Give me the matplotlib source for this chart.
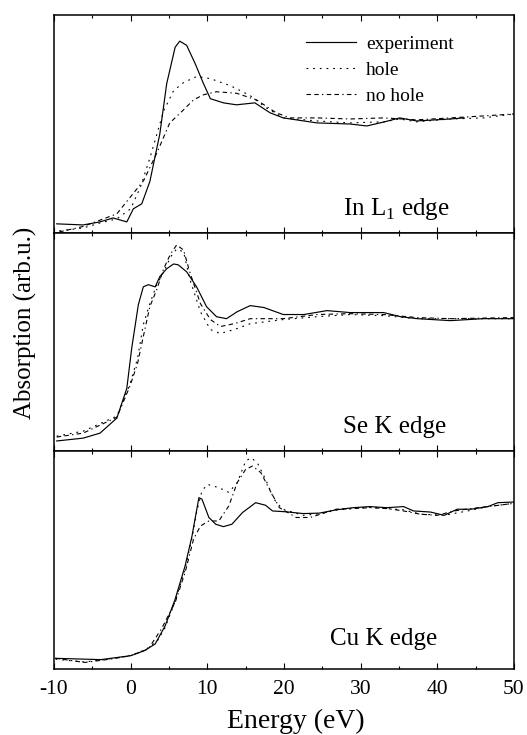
import matplotlib
matplotlib.use("Agg")
import matplotlib.pyplot as plt
from matplotlib.ticker import MultipleLocator

plt.rcParams['font.family'] = ['Liberation Serif', 'DejaVu Serif']
plt.rcParams['axes.unicode_minus'] = False

# In L1 edge (values as fraction of panel height)
in_exp_e = [-9.65, -6.2, -4.0, -2.3, -0.5, 0.35, 1.45, 2.5, 3.8, 4.7, 5.8, 6.4, 7.3, 8.4, 9.5,
            10.4, 12.1, 13.8, 16.2, 18.2, 19.9, 24.3, 28.6, 30.8, 33.0, 35.1, 37.3, 41.7, 43.5]
in_exp = [0.042, 0.037, 0.051, 0.069, 0.051, 0.111, 0.134, 0.236, 0.454, 0.685, 0.852, 0.88,
          0.861, 0.778, 0.685, 0.616, 0.597, 0.588, 0.597, 0.551, 0.528, 0.505, 0.50, 0.491,
          0.509, 0.528, 0.514, 0.523, 0.528]
in_hole_e = [-9.3, -6.2, -4.0, -1.8, 0.0, 1.3, 2.5, 4.3, 5.6, 6.9, 8.6, 10.4, 13.0, 15.6, 17.7,
             19.9, 24.3, 28.6, 33.0, 35.1, 37.3, 41.7, 46.0, 50.0]
in_hole = [0.01, 0.023, 0.046, 0.065, 0.111, 0.213, 0.343, 0.56, 0.653, 0.69, 0.718, 0.708,
           0.676, 0.63, 0.574, 0.528, 0.514, 0.505, 0.51, 0.523, 0.51, 0.523, 0.528, 0.546]
in_nohole_e = [-9.3, -6.2, -1.8, 1.7, 3.4, 5.1, 6.9, 8.2, 9.5, 11.2, 13.8, 16.4, 19.0, 20.8,
               24.3, 28.6, 33.0, 37.3, 41.7, 46.0, 50.0]
in_nohole = [0.005, 0.03, 0.088, 0.241, 0.366, 0.505, 0.565, 0.611, 0.634, 0.648, 0.641, 0.611,
             0.551, 0.528, 0.528, 0.523, 0.528, 0.519, 0.528, 0.537, 0.546]

# Se K edge
se_exp_e = [-9.65, -6.2, -4.0, -1.8, -0.5, 0.13, 1.0, 1.65, 2.3, 3.2, 3.8, 4.7, 5.6, 6.2, 7.3,
            8.6, 9.9, 11.2, 12.5, 13.9, 15.6, 17.4, 19.9, 22.6, 25.6, 28.6, 33.0, 35.2, 37.4,
            41.7, 46.0, 50.0]
se_exp = [0.046, 0.059, 0.082, 0.151, 0.288, 0.47, 0.671, 0.753, 0.763, 0.753, 0.80, 0.836,
          0.858, 0.854, 0.822, 0.753, 0.662, 0.616, 0.607, 0.639, 0.667, 0.658, 0.626, 0.626,
          0.644, 0.635, 0.635, 0.616, 0.607, 0.598, 0.607, 0.607]
se_hole_e = [-9.65, -6.2, -1.8, -0.1, 0.9, 1.65, 2.5, 3.4, 4.3, 5.2, 6.0, 6.9, 7.7, 9.1, 10.4,
             11.7, 13.5, 15.6, 19.9, 24.3, 28.6, 33.0, 37.4, 50.0]
se_hole = [0.068, 0.091, 0.16, 0.306, 0.425, 0.58, 0.676, 0.763, 0.822, 0.89, 0.927, 0.913,
           0.79, 0.639, 0.557, 0.539, 0.557, 0.584, 0.603, 0.616, 0.626, 0.621, 0.607, 0.607]
se_nohole_e = [-9.65, -6.2, -1.8, -0.1, 0.9, 1.65, 2.5, 3.4, 4.3, 5.2, 6.0, 6.9, 7.7, 9.1, 10.4,
               11.7, 13.5, 15.6, 19.9, 24.3, 28.6, 33.0, 37.4, 41.7, 50.0]
se_nohole = [0.064, 0.082, 0.155, 0.297, 0.402, 0.525, 0.662, 0.74, 0.836, 0.904, 0.945, 0.922,
             0.822, 0.676, 0.603, 0.571, 0.584, 0.607, 0.607, 0.626, 0.63, 0.626, 0.612, 0.607,
             0.612]

# Cu K edge
cu_exp_e = [-9.8, -3.9, 0.0, 1.8, 3.2, 4.5, 5.8, 7.1, 8.0, 8.9, 9.3, 10.2, 11.1, 12.1, 13.2,
            14.6, 16.3, 17.6, 18.5, 20.3, 22.5, 24.6, 26.8, 29.0, 31.2, 33.4, 35.6, 36.9, 39.1,
            40.9, 42.6, 44.4, 46.6, 47.9, 50.0]
cu_exp = [0.049, 0.043, 0.061, 0.084, 0.115, 0.198, 0.32, 0.473, 0.61, 0.786, 0.779, 0.695,
          0.664, 0.653, 0.664, 0.718, 0.763, 0.751, 0.725, 0.721, 0.713, 0.715, 0.73, 0.74,
          0.745, 0.74, 0.745, 0.725, 0.72, 0.705, 0.733, 0.733, 0.745, 0.763, 0.766]
cu_hole_e = [-9.8, -6.0, -2.5, 0.0, 2.0, 3.5, 4.5, 5.8, 7.1, 8.0, 8.6, 9.3, 10.0, 11.5, 12.8,
             13.9, 15.0, 15.7, 16.5, 17.6, 18.7, 19.8, 22.5, 24.6, 27.0, 31.2, 35.6, 37.8,
             40.9, 44.4, 46.6, 50.0]
cu_hole = [0.045, 0.032, 0.048, 0.062, 0.09, 0.13, 0.19, 0.31, 0.46, 0.60, 0.72, 0.817, 0.847,
           0.832, 0.81, 0.855, 0.954, 0.969, 0.947, 0.87, 0.779, 0.733, 0.705, 0.712, 0.73,
           0.742, 0.73, 0.71, 0.705, 0.728, 0.745, 0.76]
cu_nohole_e = [-9.8, -6.0, -2.5, 0.0, 2.3, 4.0, 5.8, 7.1, 8.2, 9.1, 10.2, 11.5, 12.8, 13.9, 15.0,
               15.9, 17.0, 18.1, 19.4, 21.6, 23.4, 25.1, 26.8, 29.0, 31.2, 33.4, 35.6, 37.8,
               40.0, 42.2, 44.4, 46.6, 50.0]
cu_nohole = [0.049, 0.03, 0.046, 0.061, 0.092, 0.183, 0.305, 0.443, 0.595, 0.656, 0.679, 0.679,
             0.748, 0.855, 0.916, 0.931, 0.90, 0.824, 0.74, 0.695, 0.695, 0.714, 0.733, 0.736,
             0.74, 0.736, 0.725, 0.71, 0.705, 0.725, 0.736, 0.745, 0.76]

edge_labels = ['In L$_\\mathregular{1}$ edge', 'Se K edge', 'Cu K edge']
label_pos = [(0.628, 0.083), (0.628, 0.082), (0.60, 0.11)]

panels = [
    (in_exp_e, in_exp, in_hole_e, in_hole, in_nohole_e, in_nohole),
    (se_exp_e, se_exp, se_hole_e, se_hole, se_nohole_e, se_nohole),
    (cu_exp_e, cu_exp, cu_hole_e, cu_hole, cu_nohole_e, cu_nohole),
]

fig, axes = plt.subplots(3, 1, figsize=(5.27, 7.35), dpi=100, sharex=True)
fig.subplots_adjust(left=54 / 527, right=514 / 527, top=1 - 15 / 735, bottom=1 - 669 / 735,
                    hspace=0)

for i, ax in enumerate(axes):
    ee, ye, eh, yh, en, yn = panels[i]
    ax.plot(ee, ye, color='black', lw=0.85, label='experiment')
    ax.plot(eh, yh, color='black', lw=0.8, dashes=(1.6, 4.4), label='hole')
    ax.plot(en, yn, color='black', lw=0.8, dashes=(4, 3, 4, 3, 1.2, 3), label='no hole')
    ax.set_xlim(-10, 50)
    ax.set_ylim(0, 1)
    ax.set_yticks([])
    ax.xaxis.set_major_locator(MultipleLocator(10))
    ax.xaxis.set_minor_locator(MultipleLocator(5))
    ax.tick_params(axis='x', which='both', direction='in', top=True, bottom=True,
                   labelsize=15.5, pad=8)
    ax.tick_params(axis='x', which='major', length=4.5, width=0.8)
    ax.tick_params(axis='x', which='minor', length=2.2, width=0.8)
    for s in ax.spines.values():
        s.set_linewidth(1.1)
    ax.text(label_pos[i][0], label_pos[i][1], edge_labels[i], transform=ax.transAxes,
            fontsize=18, ha='left', va='baseline')

axes[0].legend(loc='upper left', bbox_to_anchor=(0.53, 0.944), frameon=False, fontsize=14,
               handlelength=2.57, handletextpad=0.55, labelspacing=0.43, borderaxespad=0)

fig.text(25 / 527, 1 - 323 / 735, 'Absorption (arb.u.)', rotation=90, ha='center',
         va='center', fontsize=18)
fig.text(296 / 527, 1 - 728 / 735, 'Energy (eV)', ha='center', va='baseline', fontsize=20)

fig.savefig('out.png', dpi=100)
